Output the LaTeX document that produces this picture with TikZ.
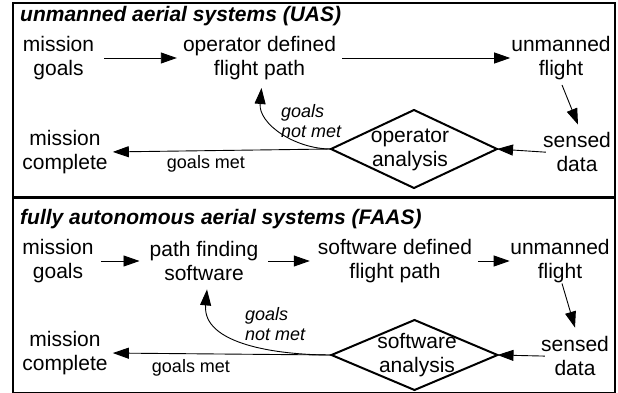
\documentclass[tikz,border=0pt]{standalone}
\usepackage{fontspec}
\setmainfont{Liberation Sans}
\usetikzlibrary{shapes.geometric,arrows.meta}
\begin{document}
\begin{tikzpicture}[x=1pt,y=-1pt,
  txt/.style={align=center,inner sep=0pt,font=\fontsize{21}{24}\selectfont},
  note/.style={align=left,anchor=west,inner sep=0pt,font=\fontsize{18}{20}\selectfont\itshape},
  lbl/.style={inner sep=0pt,font=\fontsize{18}{20}\selectfont},
  ttl/.style={anchor=base west,inner sep=0pt,font=\fontsize{21}{24}\selectfont\bfseries\itshape},
  frame/.style={draw,line width=2pt},
  decision/.style={diamond,draw,line width=2pt,inner sep=0pt,outer sep=0pt,minimum width=166pt},
  arr/.style={-{Triangle[length=16pt,width=11pt]},line width=0.9pt},
]
\useasboundingbox (0,0) rectangle (618,393);

% ---------- upper panel: UAS ----------
\draw[frame] (13,3) rectangle (615,197);
\node[ttl] (t1) at (20,22) {unmanned aerial systems (UAS)};
\node[txt] (mg1) at (58.5,58) {mission\\goals};
\node[txt] (op1) at (259.5,58) {operator defined\\flight path};
\node[txt] (uf1) at (561,58) {unmanned\\flight};
\node[txt] (sd1) at (577,152) {sensed\\data};
\node[decision,minimum height=78pt] (dia1) at (414,149) {};
\node[txt] (dt1) at (410,150) {operator\\analysis};
\node[txt] (mc1) at (65,152) {mission\\complete};
\node[lbl] (gm1) at (206,164) {goals met};
\node[note] (gn1) at (281,121) {goals\\not met};

\draw[arr,shorten <=10pt,shorten >=6pt] (mg1.east) -- (op1.west);
\draw[arr,shorten <=6pt,shorten >=1pt] (op1.east) -- (uf1.west);
\draw[arr] ([shift={(1,5)}]uf1.south) -- ([shift={(1,-7.5)}]sd1.north);
\draw[arr,shorten <=-3pt] (sd1.west) -- (dia1.east);
\draw[arr,shorten >=5pt] (dia1.west) -- (mc1.east);
\draw[arr] (dia1.west) to[out=180,in=-95] ([shift={(2,8)}]op1.south);

% ---------- lower panel: FAAS ----------
\draw[frame] (13,198) rectangle (615,393.4);
\node[ttl] (t2) at (20,224) {fully autonomous aerial systems (FAAS)};
\node[txt] (mg2) at (58,261) {mission\\goals};
\node[txt] (pf2) at (204,261) {path finding\\software};
\node[txt] (sw2) at (395,261) {software defined\\flight path};
\node[txt] (uf2) at (560,261) {unmanned\\flight};
\node[txt] (sd2) at (575,356) {sensed\\data};
\node[decision,minimum height=70pt] (dia2) at (414.5,355) {};
\node[txt] (dt2) at (417,355) {software\\analysis};
\node[txt] (mc2) at (65,353) {mission\\complete};
\node[lbl] (gm2) at (191,368) {goals met};
\node[note] (gn2) at (245,324) {goals\\not met};

\draw[arr,shorten <=7pt,shorten >=10pt] (mg2.east) -- (pf2.west);
\draw[arr,shorten <=10pt,shorten >=8pt] (pf2.east) -- (sw2.west);
\draw[arr,shorten <=6pt,shorten >=0.5pt] (sw2.east) -- (uf2.west);
\draw[arr] ([shift={(2,0.5)}]uf2.south) -- ([shift={(0,-8.5)}]sd2.north);
\draw[arr,shorten <=-4pt] (sd2.west) -- (dia2.east);
\draw[arr,shorten >=5pt] (dia2.west) -- (mc2.east);
\draw[arr] (dia2.west) to[out=180,in=-95] ([shift={(3,8.5)}]pf2.south);
\end{tikzpicture}
\end{document}
